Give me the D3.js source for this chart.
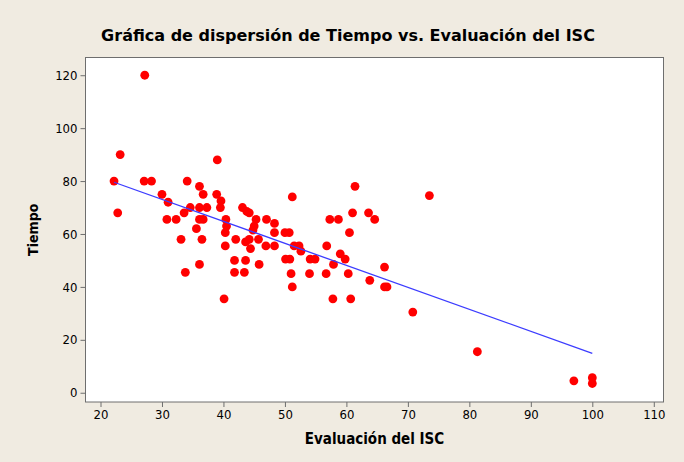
<!DOCTYPE html>
<html><head><meta charset="utf-8">
<script src="https://cdn.jsdelivr.net/npm/d3@7"></script>
<style>
html,body{margin:0;padding:0;background:#f0ebe1;}
svg{display:block;}
</style></head>
<body>
<svg id="chart" width="684" height="462"></svg>
<script>
const title = "Gráfica de dispersión de Tiempo vs. Evaluación del ISC";
const xLabel = "Evaluación del ISC";
const yLabel = "Tiempo";
const xTicks = [20,30,40,50,60,70,80,90,100,110];
const yTicks = [0,20,40,60,80,100,120];

// Evaluación del ISC (x) and Tiempo (y)
const evaluacion = [27.2,23.2,39.0,22.2,27.1,28.3,34.1,36.1,36.7,38.9,30.0,31.0,39.6,39.5,34.6,36.1,37.3,33.6,43.1,43.8,44.2,22.8,30.8,32.3,36.1,36.7,35.6,40.4,40.5,40.3,45.3,45.0,44.8,47.0,33.1,36.5,42.0,43.6,44.2,45.7,44.4,40.3,46.9,41.8,43.6,45.8,36.1,33.8,41.8,43.4,40.1,61.4,73.5,51.2,61.0,63.6,64.6,57.3,58.7,48.3,48.3,50.0,50.7,60.5,48.3,51.5,52.3,52.6,56.8,59.0,59.8,50.1,50.8,54.1,54.9,57.9,66.2,51.0,54.0,56.7,60.3,63.8,66.2,66.6,51.2,57.8,60.7,70.8,81.3,97.0,100,100];
const tiempo = [120,90,88,80,80,80,80,78,75,75,75,72,72.5,70,70,70,70,68,70,68.5,68,68,65.5,65.5,65.5,65.5,62,65.5,63,60.5,65.5,63,61.5,65.5,58,58,58,57,58,58,54.5,55.5,55.5,50,50,48.5,48.5,45.5,45.5,45.5,35.5,78,74.5,74,68,68,65.5,65.5,65.5,64,60.5,60.5,60.5,60.5,55.5,55.5,55.5,53.5,55.5,52.5,50.5,50.5,50.5,50.5,50.5,48.5,47.5,45,45,45,45,42.5,40,40,40,35.5,35.5,30.5,15.5,4.5,5.7,3.5];

// fitted line: Tiempo = intercept + slope * Evaluación
const fitIntercept = 98.0;
const fitSlope = -0.831;

const COND = '"DejaVu Sans Condensed","DejaVu Sans",sans-serif';
const REG = '"DejaVu Sans",sans-serif';

const svg = d3.select("#chart");
const L = 85.5, R = 663.5, T = 57.5, B = 402;

const x = d3.scaleLinear().domain([17.56, 111.58]).range([L, R]);
const y = d3.scaleLinear().domain([-3.5, 126.7]).range([B, T]);

svg.append("rect").attr("width",684).attr("height",462).attr("fill","#f0ebe1");
svg.append("rect").attr("x",L).attr("y",T).attr("width",R-L).attr("height",B-T)
  .attr("fill","#fff");

// points
svg.append("g").selectAll("circle").data(evaluacion.map((v,i)=>[v,tiempo[i]]))
  .join("circle")
  .attr("cx",d=>x(d[0])).attr("cy",d=>y(d[1])).attr("r",4.4)
  .attr("fill","#ff0000");

// regression line
const xMin = d3.min(evaluacion), xMax = d3.max(evaluacion);
svg.append("line")
  .attr("x1",x(xMin)).attr("y1",y(fitIntercept+fitSlope*xMin))
  .attr("x2",x(xMax)).attr("y2",y(fitIntercept+fitSlope*xMax))
  .attr("stroke","#3c3cff").attr("stroke-width",1.3);

// frame
svg.append("rect").attr("x",L).attr("y",T).attr("width",R-L).attr("height",B-T)
  .attr("fill","none").attr("stroke","#6e6e6e").attr("stroke-width",1);

// axes
const xAxis = d3.axisBottom(x).tickValues(xTicks).tickSize(5).tickPadding(3).tickFormat(d3.format("d"));
const gx = svg.append("g").attr("transform",`translate(0,${B})`).call(xAxis);
const yAxis = d3.axisLeft(y).tickValues(yTicks).tickSize(5).tickPadding(3).tickFormat(d3.format("d"));
const gy = svg.append("g").attr("transform",`translate(${L},0)`).call(yAxis);
[gx,gy].forEach(g=>{
  g.select(".domain").remove();
  g.selectAll(".tick line").attr("stroke","#6e6e6e");
  g.selectAll(".tick text").style("font-size","13px")
    .style("font-family",COND).attr("fill","#000");
});

svg.append("text").attr("x",348).attr("y",41).attr("text-anchor","middle")
  .style("font-family",REG).style("font-size","16px").style("font-weight","bold")
  .attr("fill","#000").text(title);
svg.append("text").attr("x",(L+R)/2).attr("y",443.5).attr("text-anchor","middle")
  .style("font-family",COND).style("font-size","15px").style("font-weight","bold")
  .attr("fill","#000").text(xLabel);
svg.append("text").attr("transform",`translate(38,${(T+B)/2}) rotate(-90)`)
  .attr("text-anchor","middle")
  .style("font-family",COND).style("font-size","14px").style("font-weight","bold")
  .attr("fill","#000").text(yLabel);
</script>
</body></html>
